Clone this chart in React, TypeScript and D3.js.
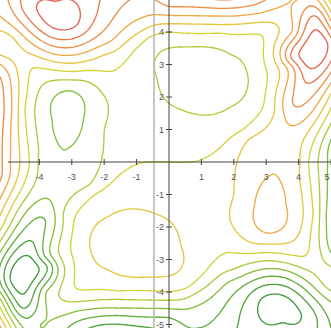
import React, { useMemo } from "react";
import * as d3 from "d3";

const W = 331;
const H = 328;
// pixel position of the origin and size of one unit
const OX = 169;
const OY = 162;
const UX = 32.4;
const UY = 32.5;

// Surface heights [x, y, z]. The surface is point-symmetric about the
// origin, so one half is listed and the other half is (-x, -y, -z).
const peaks: number[][] = [
  [-3.45, 4.5, 5.7],
  [4.45, 3.5, 5.7],
  [2.15, 5.45, 5.2],
  [-3.1, 1.3, -2.6],
  [1.0, 2.6, -1.5],
  [0, 1.0, -0.5],
];
const upperLeftRings: number[][] = [
  [-4.1, 4.72, 5], [-2.85, 4.2, 5], [-3.55, 4.12, 5], [-3.5, 4.92, 5],
  [-4.55, 4.75, 4], [-3.67, 3.85, 4], [-2.35, 4.28, 4], [-2.15, 4.9, 4],
  [-4.8, 4.6, 3], [-3.67, 3.6, 3], [-2.04, 4.02, 3], [-1.6, 4.6, 3], [-1.2, 5.0, 3],
  [-3.67, 3.35, 2], [-1.82, 3.7, 2], [-0.8, 4.45, 2], [0, 4.52, 2], [1.57, 4.5, 2],
  [2.8, 4.58, 2], [3.43, 4.77, 2],
  [-3.67, 3.12, 1], [-2.0, 3.3, 1], [-0.8, 4.05, 1], [0, 4.25, 1], [1.57, 4.22, 1],
  [0, 4.78, 3], [1.57, 4.72, 3], [2.6, 4.83, 3], [3.0, 5.0, 3],
  [-5.25, 5.1, 2.5], [-0.6, 5.1, 3],
];
const zeroLine: number[][] = [
  [-5.2, 3.55, 0], [-4.2, 2.9, 0], [-3.0, 2.78, 0], [-1.8, 2.78, 0], [-1.1, 3.4, 0],
  [-0.6, 3.85, 0], [0, 4.0, 0], [1.57, 3.97, 0], [2.87, 3.9, 0], [2.95, 3.0, 0],
  [2.9, 1.7, 0], [2.3, 1.0, 0], [1.6, 0.46, 0], [0.55, 0, 0],
];
const leftBasin: number[][] = [
  [-4.05, 0, -1], [-4.1, 1.0, -1], [-4.05, 2.1, -1], [-3.6, 2.5, -1], [-2.6, 2.5, -1],
  [-2.05, 2.1, -1], [-2.0, 1.0, -1], [-2.1, 0, -1],
  [-3.6, 1.3, -2], [-2.65, 1.3, -2], [-3.1, 2.2, -2], [-3.1, 0.45, -2],
];
const leftRidge: number[][] = [
  [-4.3, 0, 0], [-4.6, 0, 1], [-4.9, 0, 2], [-5.2, 0.2, 3.2],
  [-4.45, 1.6, 0], [-4.65, 1.6, 1], [-4.85, 1.6, 2], [-5.25, 1.5, 3.6],
  [-5.2, 3.3, 1], [-5.2, 3.0, 2], [-5.2, 2.6, 3],
  [-5.2, 4.2, 1.5],
];
const centreBasin: number[][] = [
  [-0.37, 2.6, -1], [2.45, 2.5, -1], [1.0, 3.55, -1], [0.7, 1.5, -1], [0, 1.8, -1],
  [0, 3.5, -1], [1.9, 1.7, -1], [1.9, 3.3, -1],
];
const rightRings: number[][] = [
  [4.0, 3.3, 5], [4.9, 3.65, 5], [4.55, 4.08, 5], [4.3, 2.9, 5],
  [3.75, 3.2, 4], [4.55, 4.5, 4], [4.2, 2.45, 4],
  [3.85, 2.9, 3], [3.8, 1.8, 3],
  [3.52, 1.6, 2], [3.64, 2.9, 2], [3.8, 4.0, 2], [4.04, 5.0, 2],
  [3.27, 1.6, 1], [3.37, 2.9, 1], [2.45, 0.7, 1],
  [5.1, 5.1, -1.5], [4.3, 5.1, 2.5], [5.15, 4.3, 1.0],
  [5.15, 2.0, 0], [5.15, 1.5, -1], [5.15, 1.0, -2], [5.15, 0.4, -3], [5.1, 2.6, 2],
];

const levels = d3.range(-6, 7);
const xTicks = [-4, -3, -2, -1, 1, 2, 3, 4, 5];
const yTicks = [-5, -4, -3, -2, -1, 1, 2, 3, 4];

// thin-plate spline through the samples
function buildSurface() {
  const half = [...peaks, ...upperLeftRings, ...zeroLine, ...leftBasin, ...leftRidge, ...centreBasin, ...rightRings];
  const px: number[] = [0];
  const py: number[] = [0];
  const pz: number[] = [0];
  half.forEach(([x, y, z]) => {
    px.push(x, -x);
    py.push(y, -y);
    pz.push(z, -z);
  });
  const n = px.length;
  const m = n + 3;
  const phi = (r2: number) => (r2 < 1e-12 ? 0 : 0.5 * r2 * Math.log(r2));
  const A: number[][] = [];
  for (let i = 0; i < m; i++) A.push(new Array(m + 1).fill(0));
  for (let i = 0; i < n; i++) {
    for (let j = 0; j < n; j++) {
      const dx = px[i] - px[j];
      const dy = py[i] - py[j];
      A[i][j] = phi(dx * dx + dy * dy) + (i === j ? 0.02 : 0);
    }
    A[i][n] = 1;
    A[i][n + 1] = px[i];
    A[i][n + 2] = py[i];
    A[n][i] = 1;
    A[n + 1][i] = px[i];
    A[n + 2][i] = py[i];
    A[i][m] = pz[i];
  }
  for (let c = 0; c < m; c++) {
    let p = c;
    for (let r = c + 1; r < m; r++) if (Math.abs(A[r][c]) > Math.abs(A[p][c])) p = r;
    [A[c], A[p]] = [A[p], A[c]];
    const d = A[c][c];
    for (let r = 0; r < m; r++) {
      if (r === c) continue;
      const f = A[r][c] / d;
      if (f === 0) continue;
      for (let k = c; k <= m; k++) A[r][k] -= f * A[c][k];
    }
  }
  const w = A.map((row, i) => row[m] / row[i]);
  return (x: number, y: number) => {
    let s = w[n] + w[n + 1] * x + w[n + 2] * y;
    for (let i = 0; i < n; i++) {
      const dx = x - px[i];
      const dy = y - py[i];
      s += w[i] * phi(dx * dx + dy * dy);
    }
    return s;
  };
}

const colour = d3
  .scaleLinear<string>()
  .domain([-5, -3, -2, -1, 0, 1, 2, 3, 5])
  .range(["#3f9a3c", "#62b03b", "#84bf3b", "#accc3d", "#d3d33c", "#e7c43f", "#efa946", "#ec9048", "#e2644e"])
  .clamp(true);

export default function App() {
  const paths = useMemo(() => {
    const f = buildSurface();
    const xMin = -5.7, xMax = 5.5, yMin = -5.5, yMax = 5.5, step = 0.05;
    const nx = Math.round((xMax - xMin) / step) + 1;
    const ny = Math.round((yMax - yMin) / step) + 1;
    const values = new Float64Array(nx * ny);
    for (let j = 0; j < ny; j++) {
      const y = yMax - j * step;
      for (let i = 0; i < nx; i++) values[j * nx + i] = f(xMin + i * step, y);
    }
    const sx = d3.scaleLinear().domain([-5, 5]).range([OX - 5 * UX, OX + 5 * UX]);
    const sy = d3.scaleLinear().domain([-5, 5]).range([OY + 5 * UY, OY - 5 * UY]);
    const proj = d3.geoTransform({
      point(gx: number, gy: number) {
        this.stream.point(sx(xMin + (gx - 0.5) * step), sy(yMax - (gy - 0.5) * step));
      },
    });
    const path = d3.geoPath(proj);
    return d3
      .contours()
      .size([nx, ny])
      .thresholds(levels)(Array.from(values))
      .map((c) => ({ d: path(c as any) || "", v: c.value }));
  }, []);

  const sx = (v: number) => OX + v * UX;
  const sy = (v: number) => OY - v * UY;

  return (
    <svg
      width={W}
      height={H}
      style={{ position: "fixed", left: 0, top: 0, background: "#fff" }}
      fontFamily="Liberation Sans, Arial, sans-serif"
    >
      <g fill="none" strokeWidth={1.35} strokeLinejoin="round">
        {paths.map((p) => (
          <path key={p.v} d={p.d} stroke={colour(p.v)} />
        ))}
      </g>
      <line x1={154} x2={154} y1={0} y2={H} stroke="#b4b4b4" strokeWidth={1.5} />
      <line x1={8} x2={W} y1={OY} y2={OY} stroke="#444" strokeWidth={1} />
      <line x1={OX} x2={OX} y1={0} y2={H} stroke="#444" strokeWidth={1} />
      {xTicks.map((t) => (
        <g key={"x" + t}>
          <line x1={sx(t)} x2={sx(t)} y1={OY - 3} y2={OY + 3} stroke="#444" />
          <text x={Math.min(sx(t), W - 4)} y={OY + 18} fontSize={9} fill="#555" textAnchor="middle">
            {t}
          </text>
        </g>
      ))}
      {yTicks.map((t) => (
        <g key={"y" + t}>
          <line x1={OX - 3} x2={OX + 3} y1={sy(t)} y2={sy(t)} stroke="#444" />
          <text x={OX - 5} y={sy(t) + 3} fontSize={9} fill="#555" textAnchor="end">
            {t}
          </text>
        </g>
      ))}
    </svg>
  );
}
